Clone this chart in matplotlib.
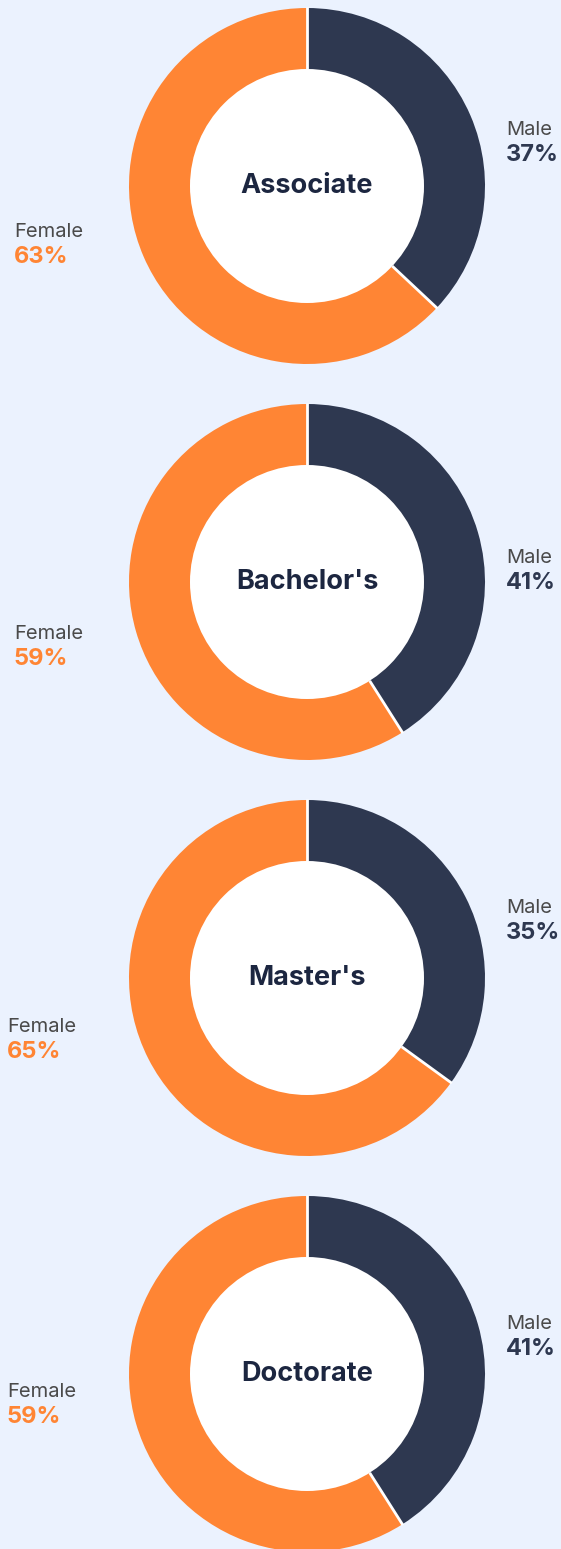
import numpy as np
import matplotlib.pyplot as plt
from matplotlib.patches import Circle

# Data
degrees = ["Associate", "Bachelor's", "Master's", "Doctorate"]
male_pct = [37, 41, 35, 41]
female_pct = [63, 59, 65, 59]

# Colours
bg_color = '#EBF2FE'
male_color = '#2E3850'
female_color = '#FF8534'
title_color = '#1C2640'
label_gray = '#4A4A4A'

plt.rcParams['font.family'] = ['Inter', 'DejaVu Sans']

W, H = 561, 1549
fig = plt.figure(figsize=(W / 100, H / 100), dpi=100, facecolor=bg_color)
ax = fig.add_axes([0, 0, 1, 1])
ax.set_facecolor(bg_color)

# layout (pixels from the top of the image)
cx = 307
first_cy = 186
step = 396
outer_r = 178
inner_r = 117
# label offsets from the donut centre
male_dy = [-56, -24, -70, -50]
female_dy = [46, 52, 49, 18]
male_x = 506
female_x = [14, 14, 7, 7]

for i, deg in enumerate(degrees):
    cy = H - (first_cy + i * step)
    wedges, _ = ax.pie([male_pct[i], female_pct[i]], colors=[male_color, female_color],
                       startangle=90, counterclock=False, center=(cx, cy), radius=outer_r,
                       wedgeprops=dict(edgecolor='none', linewidth=0), frame=True)
    # white separators between the slices
    for w in wedges:
        a = np.deg2rad(w.theta1)
        ax.plot([cx + inner_r * np.cos(a), cx + (outer_r + 1) * np.cos(a)],
                [cy + inner_r * np.sin(a), cy + (outer_r + 1) * np.sin(a)],
                color='white', lw=2, solid_capstyle='butt', zorder=2)
    ax.add_patch(Circle((cx, cy), inner_r, facecolor='white', edgecolor='none', zorder=3))
    ax.text(cx, cy, deg, ha='center', va='center', fontsize=19.5, fontweight='bold',
            color=title_color, zorder=4)

    # male label
    my = cy - male_dy[i]
    ax.text(male_x, my, 'Male', ha='left', va='center', fontsize=14.5, color=label_gray)
    ax.text(male_x, my - 25, f'{male_pct[i]}%', ha='left', va='center', fontsize=17,
            fontweight='bold', color=male_color)

    # female label
    fy = cy - female_dy[i]
    ax.text(female_x[i], fy, 'Female', ha='left', va='center', fontsize=14.5, color=label_gray)
    ax.text(female_x[i], fy - 25, f'{female_pct[i]}%', ha='left', va='center', fontsize=17,
            fontweight='bold', color=female_color)

ax.set_xlim(0, W)
ax.set_ylim(0, H)
ax.set_aspect('equal')
ax.axis('off')

fig.savefig('out.png', dpi=100, facecolor=bg_color)
